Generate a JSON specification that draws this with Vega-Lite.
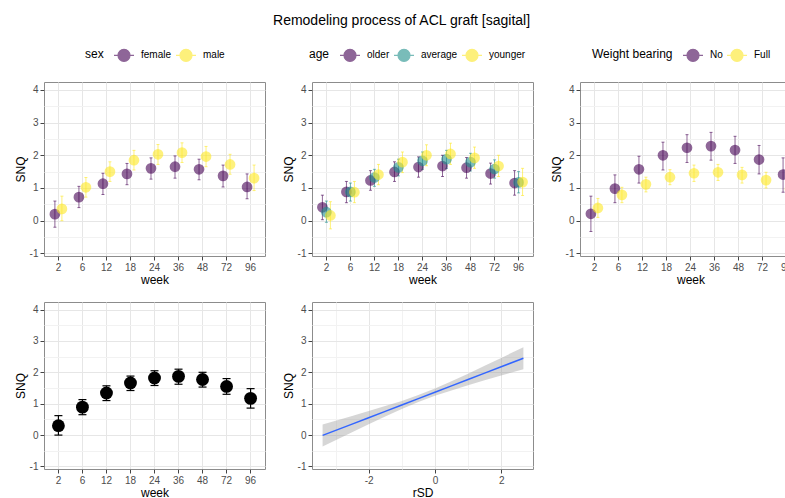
{
  "$schema": "https://vega.github.io/schema/vega-lite/v6.json",
  "background": "white",
  "padding": {"left": 13, "top": 13, "right": 0, "bottom": 0},
  "title": {"text": "Remodeling process of ACL graft [sagital]", "fontSize": 14, "fontWeight": "normal", "font": "Liberation Sans", "color": "#000000", "anchor": "middle", "dx": -6, "offset": 16},
  "config": {
    "font": "Liberation Sans",
    "view": {"stroke": "#8c8c8c", "strokeWidth": 1},
    "axis": {"labelFont": "Liberation Sans", "titleFont": "Liberation Sans", "labelFontSize": 10, "labelColor": "#4d4d4d", "titleFontSize": 12, "titleFontWeight": "normal", "titleColor": "#000000", "tickColor": "#444444", "tickSize": 4, "labelPadding": 2, "domain": false, "gridColor": "#e6e6e6", "gridWidth": 1, "titlePadding": 2},
    "legend": {"titleFont": "Liberation Sans", "labelFont": "Liberation Sans", "titleFontSize": 12, "labelFontSize": 10, "titleFontWeight": "normal", "titleColor": "#000000", "labelColor": "#000000", "titlePadding": 9, "labelOffset": 6, "columnPadding": 1, "titleBaseline": "middle"}
  },
  "datasets": {
    "sex": [
      {"week": 2, "sex": "female", "snq": 0.2, "lo": -0.2, "hi": 0.6},
      {"week": 6, "sex": "female", "snq": 0.72, "lo": 0.4, "hi": 1.05},
      {"week": 12, "sex": "female", "snq": 1.13, "lo": 0.8, "hi": 1.45},
      {"week": 18, "sex": "female", "snq": 1.43, "lo": 1.1, "hi": 1.75},
      {"week": 24, "sex": "female", "snq": 1.6, "lo": 1.27, "hi": 1.92},
      {"week": 36, "sex": "female", "snq": 1.65, "lo": 1.3, "hi": 1.98},
      {"week": 48, "sex": "female", "snq": 1.57, "lo": 1.25, "hi": 1.88},
      {"week": 72, "sex": "female", "snq": 1.37, "lo": 1.03, "hi": 1.7},
      {"week": 96, "sex": "female", "snq": 1.03, "lo": 0.67, "hi": 1.43},
      {"week": 2, "sex": "male", "snq": 0.36, "lo": 0.0, "hi": 0.75},
      {"week": 6, "sex": "male", "snq": 1.02, "lo": 0.72, "hi": 1.32},
      {"week": 12, "sex": "male", "snq": 1.5, "lo": 1.2, "hi": 1.8},
      {"week": 18, "sex": "male", "snq": 1.85, "lo": 1.55, "hi": 2.15},
      {"week": 24, "sex": "male", "snq": 2.03, "lo": 1.72, "hi": 2.33},
      {"week": 36, "sex": "male", "snq": 2.08, "lo": 1.78, "hi": 2.38},
      {"week": 48, "sex": "male", "snq": 1.96, "lo": 1.65, "hi": 2.27},
      {"week": 72, "sex": "male", "snq": 1.72, "lo": 1.42, "hi": 2.03},
      {"week": 96, "sex": "male", "snq": 1.3, "lo": 0.92, "hi": 1.7}
    ],
    "age": [
      {"week": 2, "age": "older", "snq": 0.41, "lo": 0.03, "hi": 0.78},
      {"week": 6, "age": "older", "snq": 0.88, "lo": 0.55, "hi": 1.2},
      {"week": 12, "age": "older", "snq": 1.23, "lo": 0.93, "hi": 1.53},
      {"week": 18, "age": "older", "snq": 1.49, "lo": 1.2, "hi": 1.8},
      {"week": 24, "age": "older", "snq": 1.64, "lo": 1.33, "hi": 1.95},
      {"week": 36, "age": "older", "snq": 1.67, "lo": 1.35, "hi": 2.0},
      {"week": 48, "age": "older", "snq": 1.62, "lo": 1.3, "hi": 1.93},
      {"week": 72, "age": "older", "snq": 1.44, "lo": 1.12, "hi": 1.76},
      {"week": 96, "age": "older", "snq": 1.15, "lo": 0.78, "hi": 1.53},
      {"week": 2, "age": "average", "snq": 0.26, "lo": -0.05, "hi": 0.6},
      {"week": 6, "age": "average", "snq": 0.88, "lo": 0.6, "hi": 1.15},
      {"week": 12, "age": "average", "snq": 1.32, "lo": 1.05, "hi": 1.57},
      {"week": 18, "age": "average", "snq": 1.63, "lo": 1.37, "hi": 1.88},
      {"week": 24, "age": "average", "snq": 1.83, "lo": 1.57, "hi": 2.1},
      {"week": 36, "age": "average", "snq": 1.88, "lo": 1.6, "hi": 2.15},
      {"week": 48, "age": "average", "snq": 1.79, "lo": 1.52, "hi": 2.06},
      {"week": 72, "age": "average", "snq": 1.58, "lo": 1.3, "hi": 1.86},
      {"week": 96, "age": "average", "snq": 1.17, "lo": 0.85, "hi": 1.5},
      {"week": 2, "age": "younger", "snq": 0.16, "lo": -0.25, "hi": 0.58},
      {"week": 6, "age": "younger", "snq": 0.87, "lo": 0.55, "hi": 1.2},
      {"week": 12, "age": "younger", "snq": 1.41, "lo": 1.1, "hi": 1.72},
      {"week": 18, "age": "younger", "snq": 1.79, "lo": 1.47, "hi": 2.1},
      {"week": 24, "age": "younger", "snq": 2.0, "lo": 1.68, "hi": 2.32},
      {"week": 36, "age": "younger", "snq": 2.04, "lo": 1.72, "hi": 2.37},
      {"week": 48, "age": "younger", "snq": 1.92, "lo": 1.6, "hi": 2.25},
      {"week": 72, "age": "younger", "snq": 1.67, "lo": 1.35, "hi": 2.0},
      {"week": 96, "age": "younger", "snq": 1.18, "lo": 0.77, "hi": 1.6}
    ],
    "wb": [
      {"week": 2, "wb": "No", "snq": 0.21, "lo": -0.33, "hi": 0.75},
      {"week": 6, "wb": "No", "snq": 0.98, "lo": 0.55, "hi": 1.4},
      {"week": 12, "wb": "No", "snq": 1.57, "lo": 1.15, "hi": 1.97},
      {"week": 18, "wb": "No", "snq": 2.0, "lo": 1.55, "hi": 2.4},
      {"week": 24, "wb": "No", "snq": 2.23, "lo": 1.78, "hi": 2.63},
      {"week": 36, "wb": "No", "snq": 2.28, "lo": 1.85, "hi": 2.7},
      {"week": 48, "wb": "No", "snq": 2.16, "lo": 1.75, "hi": 2.58},
      {"week": 72, "wb": "No", "snq": 1.87, "lo": 1.43, "hi": 2.3},
      {"week": 96, "wb": "No", "snq": 1.41, "lo": 0.87, "hi": 1.92},
      {"week": 2, "wb": "Full", "snq": 0.39, "lo": 0.1, "hi": 0.68},
      {"week": 6, "wb": "Full", "snq": 0.79, "lo": 0.55, "hi": 1.02},
      {"week": 12, "wb": "Full", "snq": 1.11, "lo": 0.88, "hi": 1.33},
      {"week": 18, "wb": "Full", "snq": 1.33, "lo": 1.1, "hi": 1.56},
      {"week": 24, "wb": "Full", "snq": 1.45, "lo": 1.2, "hi": 1.7},
      {"week": 36, "wb": "Full", "snq": 1.48, "lo": 1.23, "hi": 1.72},
      {"week": 48, "wb": "Full", "snq": 1.4, "lo": 1.15, "hi": 1.63},
      {"week": 72, "wb": "Full", "snq": 1.24, "lo": 1.0, "hi": 1.48},
      {"week": 96, "wb": "Full", "snq": 0.97, "lo": 0.7, "hi": 1.25}
    ],
    "overall": [
      {"week": 2, "snq": 0.3, "lo": 0.0, "hi": 0.62},
      {"week": 6, "snq": 0.89, "lo": 0.65, "hi": 1.13},
      {"week": 12, "snq": 1.34, "lo": 1.1, "hi": 1.57},
      {"week": 18, "snq": 1.66, "lo": 1.42, "hi": 1.88},
      {"week": 24, "snq": 1.82, "lo": 1.58, "hi": 2.05},
      {"week": 36, "snq": 1.87, "lo": 1.62, "hi": 2.1},
      {"week": 48, "snq": 1.77, "lo": 1.53, "hi": 2.0},
      {"week": 72, "snq": 1.55, "lo": 1.3, "hi": 1.8},
      {"week": 96, "snq": 1.17, "lo": 0.86, "hi": 1.48}
    ],
    "fit": [
      {"rsd": -3.39, "fit": -0.01, "lo": -0.36, "hi": 0.34},
      {"rsd": -2.5, "fit": 0.351, "lo": 0.092, "hi": 0.61},
      {"rsd": -2, "fit": 0.554, "lo": 0.344, "hi": 0.764},
      {"rsd": -1.5, "fit": 0.757, "lo": 0.591, "hi": 0.923},
      {"rsd": -1, "fit": 0.96, "lo": 0.83, "hi": 1.09},
      {"rsd": -0.5, "fit": 1.163, "lo": 1.052, "hi": 1.274},
      {"rsd": 0, "fit": 1.366, "lo": 1.25, "hi": 1.482},
      {"rsd": 0.5, "fit": 1.569, "lo": 1.424, "hi": 1.714},
      {"rsd": 1, "fit": 1.772, "lo": 1.587, "hi": 1.957},
      {"rsd": 1.5, "fit": 1.975, "lo": 1.744, "hi": 2.206},
      {"rsd": 2, "fit": 2.178, "lo": 1.897, "hi": 2.459},
      {"rsd": 2.67, "fit": 2.45, "lo": 2.1, "hi": 2.8}
    ]
  },
  "columns": 3,
  "spacing": {"row": 15, "column": 15},
  "resolve": {"scale": {"color": "independent", "x": "independent", "y": "independent", "xOffset": "independent"}, "legend": {"color": "independent"}},
  "concat": [
    {
      "width": 221, "height": 174,
      "data": {"name": "sex"},
      "resolve": {"axis": {"y": "independent"}},
      "layer": [
        {"mark": {"type": "rule", "strokeWidth": 1, "opacity": 0.6},
         "encoding": {
           "x": {"field": "week", "type": "ordinal", "title": "week", "scale": {"type": "band", "paddingInner": 0, "paddingOuter": 0.1}, "axis": {"labelAngle": 0, "bandPosition": 0.5, "grid": true}},
           "xOffset": {"field": "sex", "type": "nominal", "scale": {"domain": ["female", "male"], "range": [5, 19], "paddingInner": 0, "paddingOuter": 0}},
           "y": {"field": "lo", "type": "quantitative", "title": null, "scale": {"domain": [-1.08, 4.24], "nice": false, "zero": false}, "axis": {"orient": "right", "values": [-0.5, 0.5, 1.5, 2.5, 3.5], "grid": true, "gridColor": "#f2f2f2", "labels": false, "ticks": false, "domain": false, "title": null}},
           "y2": {"field": "hi"},
           "color": {"field": "sex", "type": "nominal", "scale": {"domain": ["female", "male"], "range": ["#440154", "#FDE725"]}, "legend": {"orient": "none", "legendX": 41, "legendY": -38, "direction": "horizontal", "titleOrient": "left", "title": "sex", "symbolType": "M-0.6,0A0.6,0.6 0 1,1 0.6,0A0.6,0.6 0 1,1 -0.6,0Z M-1,0L1,0", "symbolSize": 400, "symbolOpacity": 0.6, "encode": {"symbols": {"update": {"stroke": {"signal": "datum.value == 'female' ? '#440154' : '#FDE725'"}, "strokeWidth": {"value": 1.2}}}}}}
         }},
        {"mark": {"type": "tick", "thickness": 1, "size": 3, "opacity": 0.6},
         "encoding": {
           "x": {"field": "week", "type": "ordinal", "title": "week", "scale": {"type": "band", "paddingInner": 0, "paddingOuter": 0.1}, "axis": {"labelAngle": 0, "bandPosition": 0.5, "grid": true}},
           "xOffset": {"field": "sex", "type": "nominal", "scale": {"domain": ["female", "male"], "range": [5, 19], "paddingInner": 0, "paddingOuter": 0}},
           "y": {"field": "lo", "type": "quantitative", "axis": null},
           "color": {"field": "sex", "type": "nominal"}
         }},
        {"mark": {"type": "tick", "thickness": 1, "size": 3, "opacity": 0.6},
         "encoding": {
           "x": {"field": "week", "type": "ordinal", "title": "week", "scale": {"type": "band", "paddingInner": 0, "paddingOuter": 0.1}, "axis": {"labelAngle": 0, "bandPosition": 0.5, "grid": true}},
           "xOffset": {"field": "sex", "type": "nominal", "scale": {"domain": ["female", "male"], "range": [5, 19], "paddingInner": 0, "paddingOuter": 0}},
           "y": {"field": "hi", "type": "quantitative", "axis": null},
           "color": {"field": "sex", "type": "nominal"}
         }},
        {"mark": {"type": "circle", "size": 115, "opacity": 0.6},
         "encoding": {
           "x": {"field": "week", "type": "ordinal", "title": "week", "scale": {"type": "band", "paddingInner": 0, "paddingOuter": 0.1}, "axis": {"labelAngle": 0, "bandPosition": 0.5, "grid": true}},
           "xOffset": {"field": "sex", "type": "nominal", "scale": {"domain": ["female", "male"], "range": [5, 19], "paddingInner": 0, "paddingOuter": 0}},
           "y": {"field": "snq", "type": "quantitative", "title": "SNQ", "axis": {"orient": "left", "values": [-1, 0, 1, 2, 3, 4], "grid": true, "labelExpr": "'' + datum.value"}},
           "color": {"field": "sex", "type": "nominal"}
         }}
      ]
    },
    {
      "width": 221, "height": 174,
      "data": {"name": "age"},
      "resolve": {"axis": {"y": "independent"}},
      "layer": [
        {"mark": {"type": "rule", "strokeWidth": 1, "opacity": 0.6},
         "encoding": {
           "x": {"field": "week", "type": "ordinal", "title": "week", "scale": {"type": "band", "paddingInner": 0, "paddingOuter": 0.1}, "axis": {"labelAngle": 0, "bandPosition": 0.5, "grid": true}},
           "xOffset": {"field": "age", "type": "nominal", "scale": {"domain": ["older", "average", "younger"], "range": [6, 18], "paddingInner": 0, "paddingOuter": 0}},
           "y": {"field": "lo", "type": "quantitative", "title": null, "scale": {"domain": [-1.08, 4.24], "nice": false, "zero": false}, "axis": {"orient": "right", "values": [-0.5, 0.5, 1.5, 2.5, 3.5], "grid": true, "gridColor": "#f2f2f2", "labels": false, "ticks": false, "domain": false, "title": null}},
           "y2": {"field": "hi"},
           "color": {"field": "age", "type": "nominal", "scale": {"domain": ["older", "average", "younger"], "range": ["#440154", "#21908C", "#FDE725"]}, "legend": {"orient": "none", "legendX": -3, "legendY": -38, "direction": "horizontal", "titleOrient": "left", "title": "age", "symbolType": "M-0.6,0A0.6,0.6 0 1,1 0.6,0A0.6,0.6 0 1,1 -0.6,0Z M-1,0L1,0", "symbolSize": 400, "symbolOpacity": 0.6, "encode": {"symbols": {"update": {"stroke": {"signal": "datum.value == 'older' ? '#440154' : datum.value == 'average' ? '#21908C' : '#FDE725'"}, "strokeWidth": {"value": 1.2}}}}}}
         }},
        {"mark": {"type": "tick", "thickness": 1, "size": 3, "opacity": 0.6},
         "encoding": {
           "x": {"field": "week", "type": "ordinal", "title": "week", "scale": {"type": "band", "paddingInner": 0, "paddingOuter": 0.1}, "axis": {"labelAngle": 0, "bandPosition": 0.5, "grid": true}},
           "xOffset": {"field": "age", "type": "nominal", "scale": {"domain": ["older", "average", "younger"], "range": [6, 18], "paddingInner": 0, "paddingOuter": 0}},
           "y": {"field": "lo", "type": "quantitative", "axis": null},
           "color": {"field": "age", "type": "nominal"}
         }},
        {"mark": {"type": "tick", "thickness": 1, "size": 3, "opacity": 0.6},
         "encoding": {
           "x": {"field": "week", "type": "ordinal", "title": "week", "scale": {"type": "band", "paddingInner": 0, "paddingOuter": 0.1}, "axis": {"labelAngle": 0, "bandPosition": 0.5, "grid": true}},
           "xOffset": {"field": "age", "type": "nominal", "scale": {"domain": ["older", "average", "younger"], "range": [6, 18], "paddingInner": 0, "paddingOuter": 0}},
           "y": {"field": "hi", "type": "quantitative", "axis": null},
           "color": {"field": "age", "type": "nominal"}
         }},
        {"mark": {"type": "circle", "size": 115, "opacity": 0.6},
         "encoding": {
           "x": {"field": "week", "type": "ordinal", "title": "week", "scale": {"type": "band", "paddingInner": 0, "paddingOuter": 0.1}, "axis": {"labelAngle": 0, "bandPosition": 0.5, "grid": true}},
           "xOffset": {"field": "age", "type": "nominal", "scale": {"domain": ["older", "average", "younger"], "range": [6, 18], "paddingInner": 0, "paddingOuter": 0}},
           "y": {"field": "snq", "type": "quantitative", "title": "SNQ", "axis": {"orient": "left", "values": [-1, 0, 1, 2, 3, 4], "grid": true, "labelExpr": "'' + datum.value"}},
           "color": {"field": "age", "type": "nominal"}
         }}
      ]
    },
    {
      "width": 221, "height": 174,
      "data": {"name": "wb"},
      "resolve": {"axis": {"y": "independent"}},
      "layer": [
        {"mark": {"type": "rule", "strokeWidth": 1, "opacity": 0.6},
         "encoding": {
           "x": {"field": "week", "type": "ordinal", "title": "week", "scale": {"type": "band", "paddingInner": 0, "paddingOuter": 0.1}, "axis": {"labelAngle": 0, "bandPosition": 0.5, "grid": true}},
           "xOffset": {"field": "wb", "type": "nominal", "scale": {"domain": ["No", "Full"], "range": [5, 19], "paddingInner": 0, "paddingOuter": 0}},
           "y": {"field": "lo", "type": "quantitative", "title": null, "scale": {"domain": [-1.08, 4.24], "nice": false, "zero": false}, "axis": {"orient": "right", "values": [-0.5, 0.5, 1.5, 2.5, 3.5], "grid": true, "gridColor": "#f2f2f2", "labels": false, "ticks": false, "domain": false, "title": null}},
           "y2": {"field": "hi"},
           "color": {"field": "wb", "type": "nominal", "scale": {"domain": ["No", "Full"], "range": ["#440154", "#FDE725"]}, "legend": {"orient": "none", "legendX": 12, "legendY": -38, "direction": "horizontal", "titleOrient": "left", "title": "Weight bearing", "symbolType": "M-0.6,0A0.6,0.6 0 1,1 0.6,0A0.6,0.6 0 1,1 -0.6,0Z M-1,0L1,0", "symbolSize": 400, "symbolOpacity": 0.6, "encode": {"symbols": {"update": {"stroke": {"signal": "datum.value == 'No' ? '#440154' : '#FDE725'"}, "strokeWidth": {"value": 1.2}}}}}}
         }},
        {"mark": {"type": "tick", "thickness": 1, "size": 3, "opacity": 0.6},
         "encoding": {
           "x": {"field": "week", "type": "ordinal", "title": "week", "scale": {"type": "band", "paddingInner": 0, "paddingOuter": 0.1}, "axis": {"labelAngle": 0, "bandPosition": 0.5, "grid": true}},
           "xOffset": {"field": "wb", "type": "nominal", "scale": {"domain": ["No", "Full"], "range": [5, 19], "paddingInner": 0, "paddingOuter": 0}},
           "y": {"field": "lo", "type": "quantitative", "axis": null},
           "color": {"field": "wb", "type": "nominal"}
         }},
        {"mark": {"type": "tick", "thickness": 1, "size": 3, "opacity": 0.6},
         "encoding": {
           "x": {"field": "week", "type": "ordinal", "title": "week", "scale": {"type": "band", "paddingInner": 0, "paddingOuter": 0.1}, "axis": {"labelAngle": 0, "bandPosition": 0.5, "grid": true}},
           "xOffset": {"field": "wb", "type": "nominal", "scale": {"domain": ["No", "Full"], "range": [5, 19], "paddingInner": 0, "paddingOuter": 0}},
           "y": {"field": "hi", "type": "quantitative", "axis": null},
           "color": {"field": "wb", "type": "nominal"}
         }},
        {"mark": {"type": "circle", "size": 115, "opacity": 0.6},
         "encoding": {
           "x": {"field": "week", "type": "ordinal", "title": "week", "scale": {"type": "band", "paddingInner": 0, "paddingOuter": 0.1}, "axis": {"labelAngle": 0, "bandPosition": 0.5, "grid": true}},
           "xOffset": {"field": "wb", "type": "nominal", "scale": {"domain": ["No", "Full"], "range": [5, 19], "paddingInner": 0, "paddingOuter": 0}},
           "y": {"field": "snq", "type": "quantitative", "title": "SNQ", "axis": {"orient": "left", "values": [-1, 0, 1, 2, 3, 4], "grid": true, "labelExpr": "'' + datum.value"}},
           "color": {"field": "wb", "type": "nominal"}
         }}
      ]
    },
    {
      "width": 221, "height": 167,
      "data": {"name": "overall"},
      "resolve": {"axis": {"y": "independent"}},
      "layer": [
        {"mark": {"type": "rule", "strokeWidth": 1.2, "color": "#000000"},
         "encoding": {
           "x": {"field": "week", "type": "ordinal", "title": "week", "scale": {"type": "band", "paddingInner": 0, "paddingOuter": 0.1}, "axis": {"labelAngle": 0, "bandPosition": 0.5, "grid": true}},
           "y": {"field": "lo", "type": "quantitative", "title": null, "scale": {"domain": [-1.08, 4.24], "nice": false, "zero": false}, "axis": {"orient": "right", "values": [-0.5, 0.5, 1.5, 2.5, 3.5], "grid": true, "gridColor": "#f2f2f2", "labels": false, "ticks": false, "domain": false, "title": null}},
           "y2": {"field": "hi"}
         }},
        {"mark": {"type": "tick", "thickness": 1.2, "size": 8, "color": "#000000", "opacity": 1},
         "encoding": {
           "x": {"field": "week", "type": "ordinal", "title": "week", "scale": {"type": "band", "paddingInner": 0, "paddingOuter": 0.1}, "axis": {"labelAngle": 0, "bandPosition": 0.5, "grid": true}},
           "y": {"field": "lo", "type": "quantitative", "axis": null}
         }},
        {"mark": {"type": "tick", "thickness": 1.2, "size": 8, "color": "#000000", "opacity": 1},
         "encoding": {
           "x": {"field": "week", "type": "ordinal", "title": "week", "scale": {"type": "band", "paddingInner": 0, "paddingOuter": 0.1}, "axis": {"labelAngle": 0, "bandPosition": 0.5, "grid": true}},
           "y": {"field": "hi", "type": "quantitative", "axis": null}
         }},
        {"mark": {"type": "circle", "size": 165, "opacity": 1, "color": "#000000"},
         "encoding": {
           "x": {"field": "week", "type": "ordinal", "title": "week", "scale": {"type": "band", "paddingInner": 0, "paddingOuter": 0.1}, "axis": {"labelAngle": 0, "bandPosition": 0.5, "grid": true}},
           "y": {"field": "snq", "type": "quantitative", "title": "SNQ", "axis": {"orient": "left", "values": [-1, 0, 1, 2, 3, 4], "grid": true, "labelExpr": "'' + datum.value"}}
         }}
      ]
    },
    {
      "width": 221, "height": 167,
      "data": {"name": "fit"},
      "resolve": {"axis": {"x": "independent", "y": "independent"}},
      "layer": [
        {"mark": {"type": "area", "color": "#999999", "opacity": 0.4},
         "encoding": {
           "x": {"field": "rsd", "type": "quantitative", "title": null, "scale": {"domain": [-3.71, 2.96], "nice": false, "zero": false}, "axis": {"orient": "top", "values": [-3, -1, 1], "grid": true, "gridColor": "#f2f2f2", "labels": false, "ticks": false, "domain": false, "title": null}},
           "y": {"field": "lo", "type": "quantitative", "title": null, "scale": {"domain": [-1.08, 4.24], "nice": false, "zero": false}, "axis": {"orient": "right", "values": [-0.5, 0.5, 1.5, 2.5, 3.5], "grid": true, "gridColor": "#f2f2f2", "labels": false, "ticks": false, "domain": false, "title": null}},
           "y2": {"field": "hi"}
         }},
        {"mark": {"type": "line", "color": "#3366FF", "strokeWidth": 1.5},
         "encoding": {
           "x": {"field": "rsd", "type": "quantitative", "title": "rSD", "axis": {"orient": "bottom", "values": [-2, 0, 2], "grid": true, "labelExpr": "'' + datum.value"}},
           "y": {"field": "fit", "type": "quantitative", "title": "SNQ", "axis": {"orient": "left", "values": [-1, 0, 1, 2, 3, 4], "grid": true, "labelExpr": "'' + datum.value"}}
         }}
      ]
    }
  ]
}
